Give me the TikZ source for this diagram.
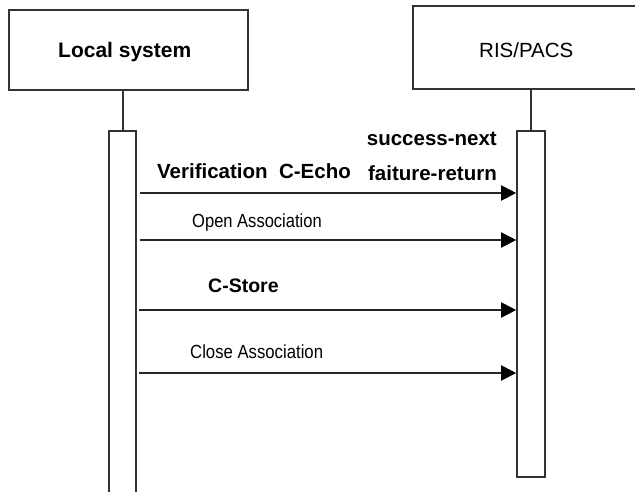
\documentclass[tikz,border=0pt]{standalone}
\usepackage{fontspec}
\setmainfont{Liberation Sans}
\usetikzlibrary{arrows.meta}
\definecolor{linegray}{HTML}{333333}
\definecolor{msggray}{HTML}{262626}
\tikzset{
  objbox/.style={draw=linegray, line width=1.6pt, fill=white},
  actbox/.style={draw=linegray, line width=1.6pt, fill=white},
  lifeline/.style={draw=linegray, line width=1.4pt},
  msg/.style={draw=msggray, line width=2pt, -{Triangle[length=15pt,width=15pt,fill=black,color=black]}},
  boldlbl/.style={inner sep=0pt, font=\fontsize{20.5}{24}\selectfont\bfseries},
  thinlbl/.style={inner sep=0pt, font=\fontsize{19}{23}\selectfont},
}
\begin{document}
\begin{tikzpicture}[x=1pt, y=-1pt]
  \useasboundingbox (0,0) rectangle (635,491);
  \clip (0,0) rectangle (635,491);
  % participant heads
  \draw[objbox] (9,10) rectangle (248,90);
  \coordinate (lhead) at (123,90);
  \draw[objbox] (413,6) rectangle (641,89);
  \coordinate (rhead) at (531,89);
  \node[inner sep=0pt, anchor=base west, font=\fontsize{21}{25}\selectfont\bfseries] (lname) at (58,57) {Local system};
  \node[inner sep=0pt, anchor=base west, font=\fontsize{20.5}{25}\selectfont] (rname) at (479,57) {RIS/PACS};
  % activation bars
  \node[actbox, minimum width=27pt, minimum height=380pt, anchor=north, inner sep=0pt] (lact) at (122.5,130) {};
  \node[actbox, minimum width=28pt, minimum height=346pt, anchor=north, inner sep=0pt] (ract) at (531,130) {};
  \draw[lifeline] (lhead) -- (lhead |- lact.north);
  \draw[lifeline] (rhead) -- (rhead |- ract.north);
  % messages
  \coordinate (m1) at (0,193);
  \coordinate (m2) at (0,240);
  \coordinate (m3) at (0,310);
  \coordinate (m4) at (0,373);
  \draw[msg] ([xshift=3pt]lact.east |- m1) -- (ract.west |- m1);
  \draw[msg] ([xshift=3pt]lact.east |- m2) -- (ract.west |- m2);
  \draw[msg] ([xshift=2pt]lact.east |- m3) -- (ract.west |- m3);
  \draw[msg] ([xshift=2pt]lact.east |- m4) -- (ract.west |- m4);
  % message labels
  \node[boldlbl, anchor=base east] (succ) at (497,145) {success-next};
  \node[boldlbl, anchor=base west] (verif) at (157,178) {Verification\ \ C-Echo};
  \node[boldlbl, anchor=base east] (fail) at (497,180) {faiture-return};
  \node[thinlbl, anchor=base west] (open) at (192,227) {\scalebox{0.87}[1]{Open Association}};
  \node[boldlbl, anchor=base west, font=\fontsize{19.5}{23}\selectfont\bfseries] (store) at (208,292) {C-Store};
  \node[thinlbl, anchor=base west] (close) at (190,358) {\scalebox{0.88}[1]{Close Association}};
\end{tikzpicture}
\end{document}
